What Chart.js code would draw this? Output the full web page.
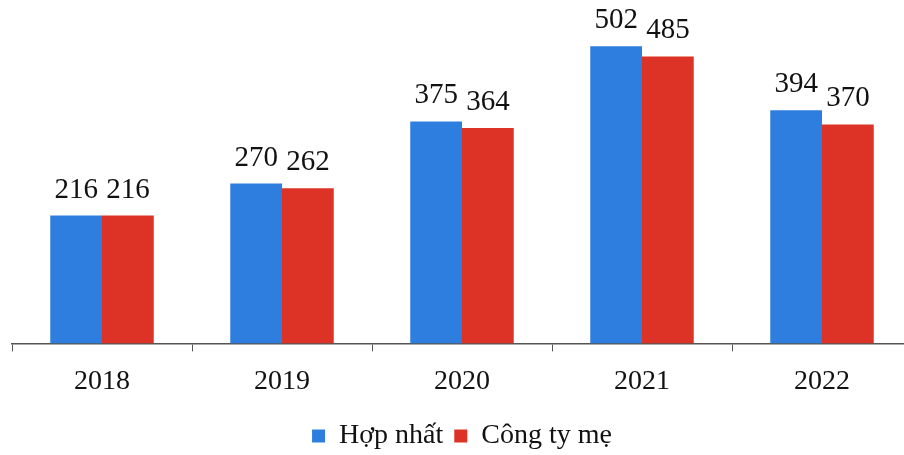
<!DOCTYPE html>
<html>
<head>
<meta charset="utf-8">
<script src="https://cdn.jsdelivr.net/npm/chart.js@4/dist/chart.umd.min.js"></script>
<style>
  html, body { margin: 0; padding: 0; background: #fff; overflow: hidden; }
  #wrap { width: 912px; height: 455px; }
</style>
</head>
<body>
<div id="wrap"><canvas id="myChart"></canvas></div>
<script>
const years = ['2018', '2019', '2020', '2021', '2022'];
const hopNhat = [216, 270, 375, 502, 394];
const congTyMe = [216, 262, 364, 485, 370];

// draw value on top of every bar
const valueLabels = {
    id: 'valueLabels',
    afterDatasetsDraw(chart) {
        const ctx = chart.ctx;
        ctx.save();
        ctx.font = '29px "Liberation Serif", serif';
        ctx.fillStyle = '#111';
        ctx.textAlign = 'center';
        ctx.textBaseline = 'alphabetic';
        chart.data.datasets.forEach((ds, i) => {
            chart.getDatasetMeta(i).data.forEach((bar, j) => {
                ctx.fillText(ds.data[j], bar.x, bar.y - 18);
            });
        });
        ctx.restore();
    }
};

const ctx = document.getElementById('myChart').getContext('2d');
const myChart = new Chart(ctx, {
    type: 'bar',
    data: {
        labels: years,
        datasets: [{
            label: 'Hợp nhất',
            data: hopNhat,
            backgroundColor: '#2e7ee0',
            borderWidth: 0
        }, {
            label: 'Công ty mẹ',
            data: congTyMe,
            backgroundColor: '#dd3326',
            borderWidth: 0
        }]
    },
    options: {
        responsive: true,
        maintainAspectRatio: false,
        animation: false,
        layout: {
            padding: { top: 12, left: 12, right: 0, bottom: -5 }
        },
        datasets: {
            bar: { categoryPercentage: 0.575, barPercentage: 1.0 }
        },
        scales: {
            x: {
                grid: {
                    offset: true,
                    drawOnChartArea: false,
                    tickLength: 8,
                    color: '#555'
                },
                border: { display: true, color: '#555', width: 1.5 },
                ticks: {
                    color: '#111',
                    padding: 13,
                    font: { family: '"Liberation Serif", serif', size: 28 }
                }
            },
            y: {
                display: false,
                min: 0,
                max: 560
            }
        },
        plugins: {
            legend: {
                position: 'bottom',
                labels: {
                    color: '#111',
                    boxWidth: 13,
                    boxHeight: 13,
                    padding: 11,
                    font: { family: '"Liberation Serif", serif', size: 28 }
                }
            },
            tooltip: { enabled: false }
        }
    },
    plugins: [valueLabels]
});
</script>
</body>
</html>
